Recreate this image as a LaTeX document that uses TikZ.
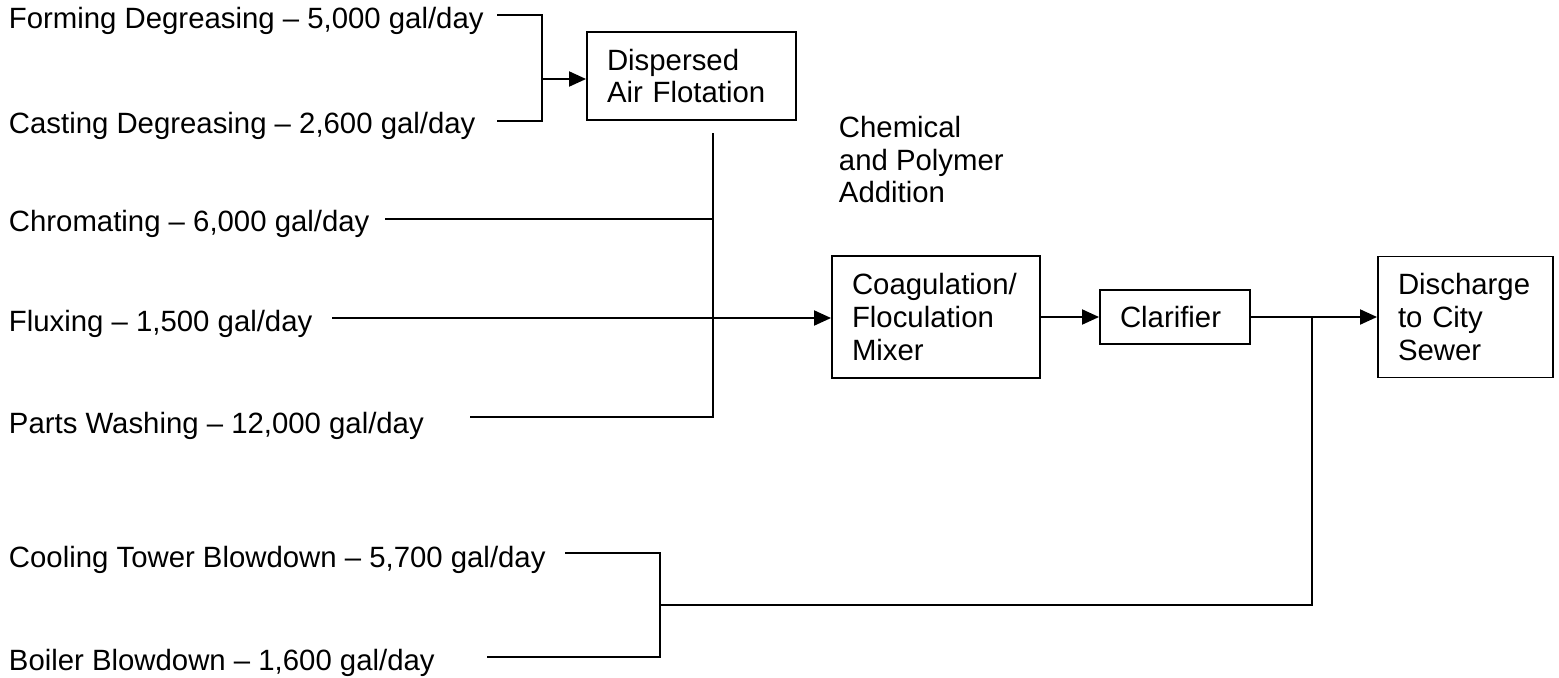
\documentclass[tikz,border=0pt]{standalone}
\usepackage{fontspec}
\setmainfont{Liberation Sans}
\usetikzlibrary{arrows.meta}

\begin{document}
\begin{tikzpicture}[x=0.02cm,y=-0.02cm,line width=1.1pt,>={Triangle[length=0.34cm,width=0.3cm]},
 every node/.style={font=\fontsize{16.7}{18.7}\selectfont},
 feed/.style={anchor=base west,inner sep=0pt},
 unit/.style={draw,rectangle,align=left,inner xsep=0.4cm,inner ysep=0pt}]
 %\useasboundingbox keeps the page at the size of the reference
 \useasboundingbox (0,0) rectangle (1559,677);

 \node[feed] (fd) at (8,28)  {Forming Degreasing -- 5,000 gal/day};
 \node[feed] (cd) at (8,133) {Casting Degreasing -- 2,600 gal/day};
 \node[feed] (ch) at (8,231) {Chromating -- 6,000 gal/day};
 \node[feed] (fl) at (8,331) {Fluxing -- 1,500 gal/day};
 \node[feed] (pw) at (8,433) {Parts Washing -- 12,000 gal/day};
 \node[feed] (ct) at (8,567) {Cooling Tower Blowdown -- 5,700 gal/day};
 \node[feed] (bb) at (8,670) {Boiler Blowdown -- 1,600 gal/day};

 \node[unit,text width=3.38cm,minimum height=1.76cm] (daf)  at (691.5,76)  {Dispersed\\Air Flotation};
 \node[unit,text width=3.36cm,minimum height=2.44cm] (coag) at (936,317)   {Coagulation/\\Floculation\\Mixer};
 \node[unit,text width=2.2cm,minimum height=1.08cm]  (clar) at (1175,317)  {Clarifier};
 \node[unit,text width=2.7cm,minimum height=2.42cm]  (dis)  at (1465.5,317) {Discharge\\to City\\Sewer};
 \node[align=left,anchor=north west,inner sep=0pt]   (chem) at (838,115)   {Chemical\\and Polymer\\Addition};

 \coordinate (fdS)    at (497,15);
 \coordinate (cdS)    at (497,121);
 \coordinate (jdaf)   at (542,79);
 \coordinate (dafout) at (713,133);
 \coordinate (chS)    at (385,219);
 \coordinate (flS)    at (332,318);
 \coordinate (pwS)    at (470,417);
 \coordinate (ctS)    at (565,553);
 \coordinate (bbS)    at (487,657);
 \coordinate (jbd)    at (660,605);
 \coordinate (jsew)   at (1312,317);

 \draw (fdS) -| (jdaf);
 \draw (cdS) -| (jdaf);
 \draw[->] (jdaf) -- (jdaf -| daf.west);
 \draw (dafout) |- (pwS);
 \draw (chS) -- (chS -| dafout);
 \draw[->] (flS) -- (flS -| coag.west);
 \draw[->] (coag) -- (clar);
 \draw[->] (clar) -- (dis);
 \draw (ctS) -| (jbd);
 \draw (bbS) -| (jbd);
 \draw (jbd) -- (jbd -| jsew) -- (jsew);
\end{tikzpicture}
\end{document}
